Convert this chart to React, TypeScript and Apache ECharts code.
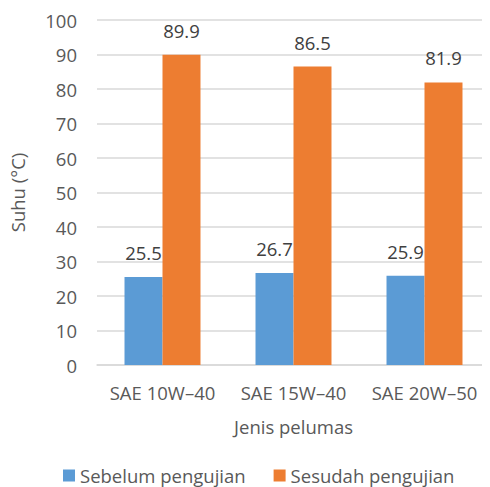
import React, { useEffect, useRef } from "react";
import * as echarts from "echarts";

const categories = ["SAE 10W–40", "SAE 15W–40", "SAE 20W–50"];
const sebelum = [25.5, 26.7, 25.9];
const sesudah = [89.9, 86.5, 81.9];
const seriesNames = ["Sebelum pengujian", "Sesudah pengujian"];

const FONT = "'Open Sans', sans-serif";
const FS = 18.5;

export default function App() {
  const ref = useRef<HTMLDivElement>(null);
  useEffect(() => {
    if (!ref.current) return;
    const chart = echarts.init(ref.current, undefined, { renderer: "svg" });
    const label = {
      show: true,
      position: "top" as const,
      distance: 15,
      color: "#404040",
      fontSize: FS,
      fontFamily: FONT,
    };
    chart.setOption({
      animation: false,
      backgroundColor: "#fff",
      textStyle: { fontFamily: FONT },
      grid: { left: 94, top: 20, width: 405, bottom: 122 },
      legend: {
        bottom: -3,
        left: 58,
        itemWidth: 12,
        itemHeight: 12,
        itemGap: 28,
        icon: "rect",
        textStyle: { color: "#595959", fontSize: FS, fontFamily: FONT },
        data: seriesNames,
      },
      xAxis: {
        type: "category",
        data: categories,
        name: "Jenis pelumas",
        nameLocation: "middle",
        nameGap: 52,
        nameTextStyle: { color: "#595959", fontSize: FS, fontFamily: FONT },
        axisLine: { lineStyle: { color: "#D9D9D9", width: 1.5 } },
        axisTick: { show: false },
        axisLabel: {
          color: "#595959",
          fontSize: FS,
          margin: 18,
          fontFamily: FONT,
          interval: 0,
          hideOverlap: false,
        },
      },
      yAxis: {
        type: "value",
        min: 0,
        max: 100,
        interval: 10,
        name: "Suhu (°C)",
        nameLocation: "middle",
        nameGap: 70,
        nameRotate: 90,
        nameTextStyle: { color: "#595959", fontSize: FS, fontFamily: FONT },
        axisLabel: { color: "#595959", fontSize: FS, margin: 20, fontFamily: FONT },
        splitLine: { lineStyle: { color: "#D9D9D9", width: 1.5 } },
      },
      series: [
        {
          name: seriesNames[0],
          type: "bar",
          data: sebelum,
          barGap: "0%",
          barCategoryGap: "42%",
          itemStyle: { color: "#5B9BD5" },
          label,
        },
        {
          name: seriesNames[1],
          type: "bar",
          data: sesudah,
          barGap: "0%",
          barCategoryGap: "42%",
          itemStyle: { color: "#ED7D31" },
          label,
        },
      ],
    });
    return () => chart.dispose();
  }, []);
  return <div ref={ref} style={{ width: 490, height: 487, marginLeft: -8, marginTop: -8 }} />;
}
